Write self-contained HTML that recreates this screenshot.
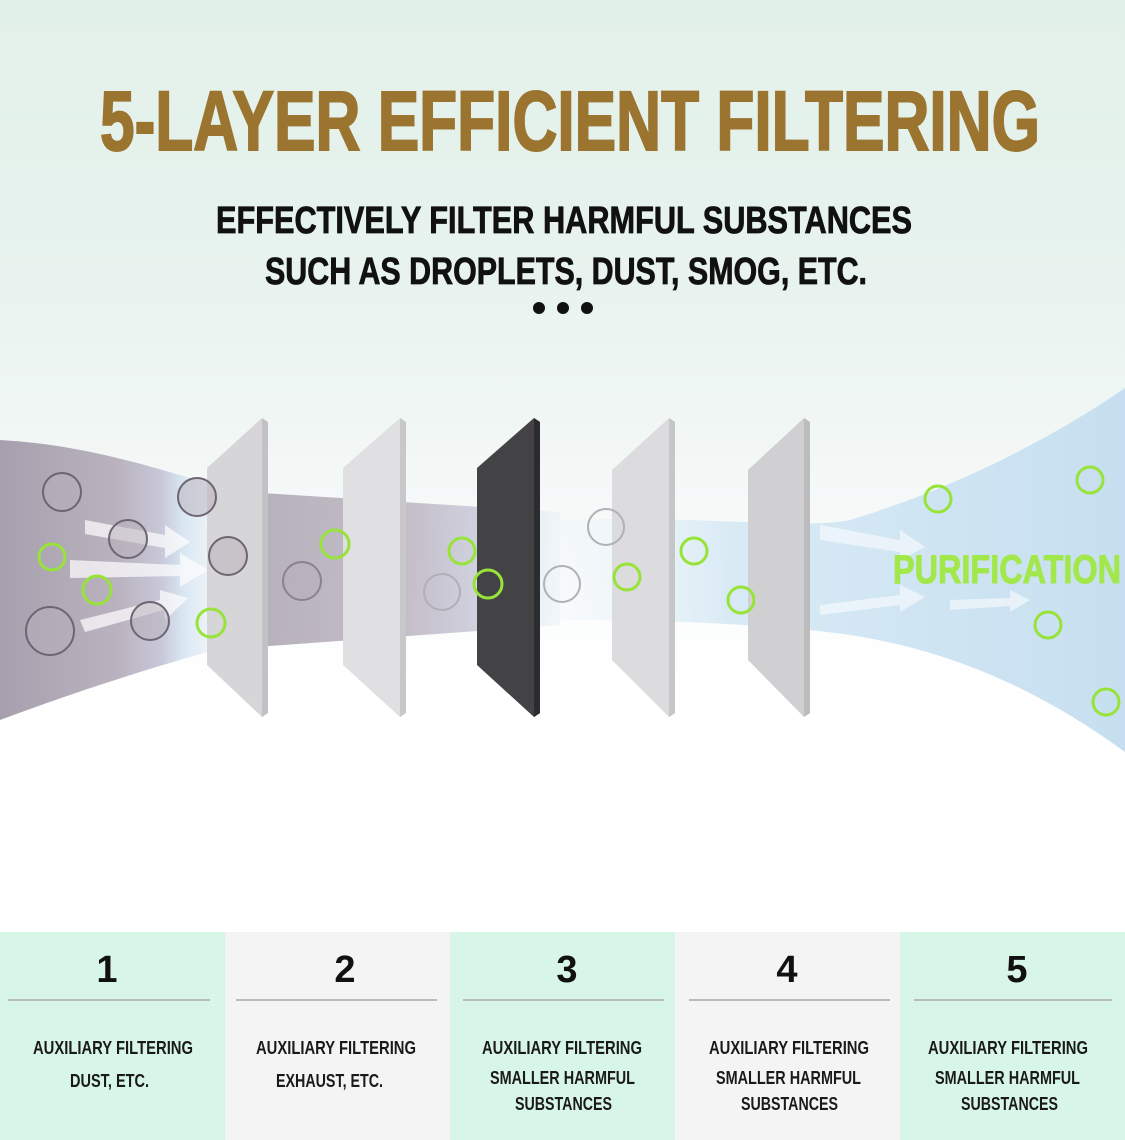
<!DOCTYPE html>
<html><head><meta charset="utf-8"><style>
html,body{margin:0;padding:0;width:1125px;height:1140px;overflow:hidden;background:#fff}
svg{display:block}
text{font-family:"Liberation Sans Narrow","Liberation Sans",sans-serif;font-weight:bold}
</style></head><body>
<svg width="1125" height="1140" viewBox="0 0 1125 1140" xmlns="http://www.w3.org/2000/svg">
<defs>
<linearGradient id="bg" x1="0" y1="0" x2="0" y2="1">
<stop offset="0" stop-color="#e2f1e9"/><stop offset="0.25" stop-color="#e8f3ef"/><stop offset="0.42" stop-color="#f4f8f7"/><stop offset="0.6" stop-color="#ffffff"/><stop offset="1" stop-color="#ffffff"/>
</linearGradient>
<linearGradient id="flowL" x1="0" y1="0" x2="1" y2="0">
<stop offset="0" stop-color="#a79fad"/><stop offset="0.55" stop-color="#bab3bf"/><stop offset="0.75" stop-color="#c8c8d8"/><stop offset="0.85" stop-color="#d8e6f2"/><stop offset="1" stop-color="#e6eef5" stop-opacity="0.5"/>
</linearGradient>
<linearGradient id="flowR" x1="0" y1="0" x2="1" y2="0">
<stop offset="0" stop-color="#eef5fa" stop-opacity="0.3"/><stop offset="0.3" stop-color="#d9eaf5"/><stop offset="1" stop-color="#c6dff0"/>
</linearGradient>
</defs>
<rect width="1125" height="1140" fill="url(#bg)"/>
<path d="M0,440 C90,445 160,470 215,485 L215,650 C160,665 80,690 0,720 Z" fill="url(#flowL)"/>
<path d="M215,490 L560,512 L560,625 L215,650 Z" fill="url(#flowL)" opacity="0.85"/>
<path d="M560,520 C700,515 800,530 850,520 C950,490 1050,440 1125,388 L1125,752 C1040,690 950,650 850,635 C780,625 680,620 560,620 Z" fill="url(#flowR)"/>
<g fill="#ffffff" opacity="0.7">
<path d="M85,520 L165,535 L165,525 L190,542 L165,558 L165,548 L85,534 Z"/>
<path d="M70,560 L180,565 L180,553 L208,570 L180,587 L180,576 L70,578 Z"/>
<path d="M80,620 L160,600 L160,590 L188,598 L165,620 L164,610 L85,632 Z"/>
</g>
<g fill="#ffffff" opacity="0.55">
<path d="M820,525 L900,540 L900,530 L925,547 L900,560 L900,552 L820,540 Z"/>
<path d="M820,605 L900,595 L900,585 L925,597 L900,612 L900,605 L820,615 Z"/>
<path d="M950,600 L1010,598 L1010,590 L1030,600 L1010,612 L1010,606 L950,610 Z"/>
</g>
<g>
<polygon points="207,468 262,418 268,422 268,713 262,717 207,665" fill="#d6d6d8"/>
<polygon points="262,418 268,422 268,713 262,717" fill="#c2c2c4"/>
<polygon points="343,468 400,418 406,422 406,713 400,717 343,665" fill="#e0e0e2"/>
<polygon points="400,418 406,422 406,713 400,717" fill="#c8c8ca"/>
<polygon points="477,468 534,418 540,422 540,713 534,717 477,665" fill="#434345"/>
<polygon points="534,418 540,422 540,713 534,717" fill="#2c2c2e"/>
<polygon points="612,470 669,418 675,422 675,713 669,717 612,660" fill="#dcdcde"/>
<polygon points="669,418 675,422 675,713 669,717" fill="#c6c6c8"/>
<polygon points="748,470 804,418 810,422 810,713 804,717 748,660" fill="#d0d0d2"/>
<polygon points="804,418 810,422 810,713 804,717" fill="#bcbcbe"/>
</g>
<g fill="#b7afb9" fill-opacity="0.5" stroke="#6d6572" stroke-width="2">
<circle cx="62" cy="492" r="19"/><circle cx="197" cy="497" r="19"/><circle cx="128" cy="539" r="19"/>
<circle cx="228" cy="556" r="19"/><circle cx="50" cy="631" r="24"/><circle cx="150" cy="621" r="19"/>
<circle cx="302" cy="581" r="19" stroke="#8a8290"/>
</g>
<g fill="none" stroke="#b0b0b8" stroke-width="2">
<circle cx="442" cy="592" r="18"/><circle cx="562" cy="584" r="18"/><circle cx="606" cy="527" r="18"/>
</g>
<g fill="none" stroke="#97e33a" stroke-width="3">
<circle cx="52" cy="557" r="13"/><circle cx="97" cy="590" r="14"/><circle cx="211" cy="623" r="14"/>
<circle cx="335" cy="544" r="14"/><circle cx="462" cy="551" r="13"/><circle cx="488" cy="584" r="14"/>
<circle cx="627" cy="577" r="13"/><circle cx="694" cy="551" r="13"/><circle cx="741" cy="600" r="13"/>
<circle cx="938" cy="499" r="13"/><circle cx="1090" cy="480" r="13"/><circle cx="1048" cy="625" r="13"/><circle cx="1106" cy="702" r="13"/>
</g>
<text x="893" y="583" font-size="40" fill="#a2e84c" stroke="#a2e84c" stroke-width="1" textLength="228" lengthAdjust="spacingAndGlyphs">PURIFICATION</text>
<text x="100" y="150" font-size="84" fill="#9b7430" stroke="#9b7430" stroke-width="2" textLength="940" lengthAdjust="spacingAndGlyphs">5-LAYER EFFICIENT FILTERING</text>
<text x="216" y="233" font-size="38" fill="#111" stroke="#111" stroke-width="0.8" textLength="696" lengthAdjust="spacingAndGlyphs">EFFECTIVELY FILTER HARMFUL SUBSTANCES</text>
<text x="265" y="284" font-size="38" fill="#111" stroke="#111" stroke-width="0.8" textLength="602" lengthAdjust="spacingAndGlyphs">SUCH AS DROPLETS, DUST, SMOG, ETC.</text>
<circle cx="539" cy="308" r="6" fill="#111"/><circle cx="563" cy="308" r="6" fill="#111"/><circle cx="587" cy="308" r="6" fill="#111"/>
<rect x="0" y="932" width="225" height="208" fill="#d8f6e8"/>
<rect x="225" y="932" width="225" height="208" fill="#f5f4f4"/>
<rect x="450" y="932" width="225" height="208" fill="#d8f6e8"/>
<rect x="675" y="932" width="225" height="208" fill="#f5f4f4"/>
<rect x="900" y="932" width="225" height="208" fill="#d8f6e8"/>
<g stroke="#b8bcba" stroke-width="2">
<line x1="8" y1="1000" x2="210" y2="1000"/><line x1="236" y1="1000" x2="437" y2="1000"/>
<line x1="463" y1="1000" x2="664" y2="1000"/><line x1="689" y1="1000" x2="890" y2="1000"/><line x1="914" y1="1000" x2="1112" y2="1000"/>
</g>
<g font-size="38" fill="#111" text-anchor="middle">
<text x="107" y="982">1</text><text x="345" y="982">2</text><text x="567" y="982">3</text><text x="787" y="982">4</text><text x="1017" y="982">5</text>
</g>
<g font-size="18" fill="#1a1a1a" lengthAdjust="spacingAndGlyphs">
<text x="33" y="1054" textLength="160" lengthAdjust="spacingAndGlyphs">AUXILIARY FILTERING</text>
<text x="70" y="1087" textLength="79" lengthAdjust="spacingAndGlyphs">DUST, ETC.</text>
<text x="256" y="1054" textLength="160" lengthAdjust="spacingAndGlyphs">AUXILIARY FILTERING</text>
<text x="276" y="1087" textLength="107" lengthAdjust="spacingAndGlyphs">EXHAUST, ETC.</text>
<text x="482" y="1054" textLength="160" lengthAdjust="spacingAndGlyphs">AUXILIARY FILTERING</text>
<text x="490" y="1084" textLength="145" lengthAdjust="spacingAndGlyphs">SMALLER HARMFUL</text>
<text x="515" y="1110" textLength="97" lengthAdjust="spacingAndGlyphs">SUBSTANCES</text>
<text x="709" y="1054" textLength="160" lengthAdjust="spacingAndGlyphs">AUXILIARY FILTERING</text>
<text x="716" y="1084" textLength="145" lengthAdjust="spacingAndGlyphs">SMALLER HARMFUL</text>
<text x="741" y="1110" textLength="97" lengthAdjust="spacingAndGlyphs">SUBSTANCES</text>
<text x="928" y="1054" textLength="160" lengthAdjust="spacingAndGlyphs">AUXILIARY FILTERING</text>
<text x="935" y="1084" textLength="145" lengthAdjust="spacingAndGlyphs">SMALLER HARMFUL</text>
<text x="961" y="1110" textLength="97" lengthAdjust="spacingAndGlyphs">SUBSTANCES</text>
</g>
</svg>
</body></html>
